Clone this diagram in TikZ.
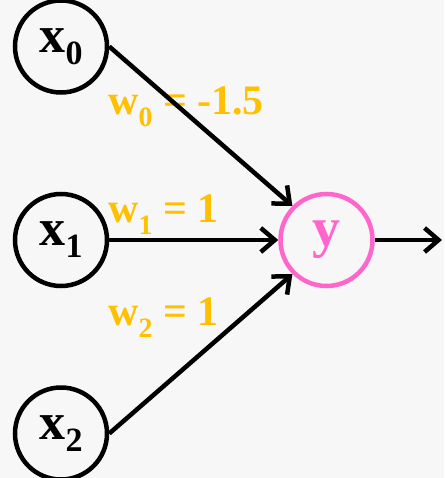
\documentclass[tikz,border=0pt]{standalone}
\usepackage{fontspec}
\setmainfont{Liberation Serif}
\usepackage{xcolor}
\usetikzlibrary{positioning, arrows.meta}

\definecolor{wgold}{HTML}{FFC000}
\definecolor{ypink}{HTML}{FF66CC}

\newcommand{\sublabel}[3][32]{#2\raisebox{-12pt}{\fontsize{#1}{#1}\selectfont #3}}

\begin{document}
\begin{tikzpicture}[
  x=1pt, y=-1pt,
  node distance=97pt and 169pt,
  unit/.style={circle, draw=black, line width=4.5pt, minimum size=92pt, inner sep=0pt,
               font=\fontsize{52}{56}\selectfont\bfseries},
  outunit/.style={unit, draw=ypink, text=ypink, font=\fontsize{56}{60}\selectfont\bfseries},
  weight/.style={anchor=base west, inner sep=0pt, text=wgold,
                 font=\fontsize{42}{46}\selectfont\bfseries},
  arrow/.style={-{Straight Barb[length=14pt, width=24pt]}, line width=4.5pt},
]
  \fill[black!3] (0,0) rectangle (444,478);
  \useasboundingbox (0,0) rectangle (444,478);

  \node[unit] (x1) at (61,240) {\sublabel[34]{x}{1}};
  \node[unit, above=of x1] (x0) {\sublabel[34]{x}{0}};
  \node[unit, below=of x1] (x2) {\sublabel[34]{x}{2}};
  \node[outunit, right=of x1] (y) {y};
  \coordinate (out) at (442,240);

  \node[weight] (w0) at (108,115) {\sublabel[28]{w}{0} = -1.5};
  \node[weight] (w1) at (108,222) {\sublabel[28]{w}{1} = 1};
  \node[weight] (w2) at (108,325) {\sublabel[28]{w}{2} = 1};

  \draw[arrow] (x0.east) -- (y.north west);
  \draw[arrow] (x1.east) -- (y.west);
  \draw[arrow] (x2.east) -- (y.south west);
  \draw[arrow] (y.east) -- (out);
\end{tikzpicture}
\end{document}
